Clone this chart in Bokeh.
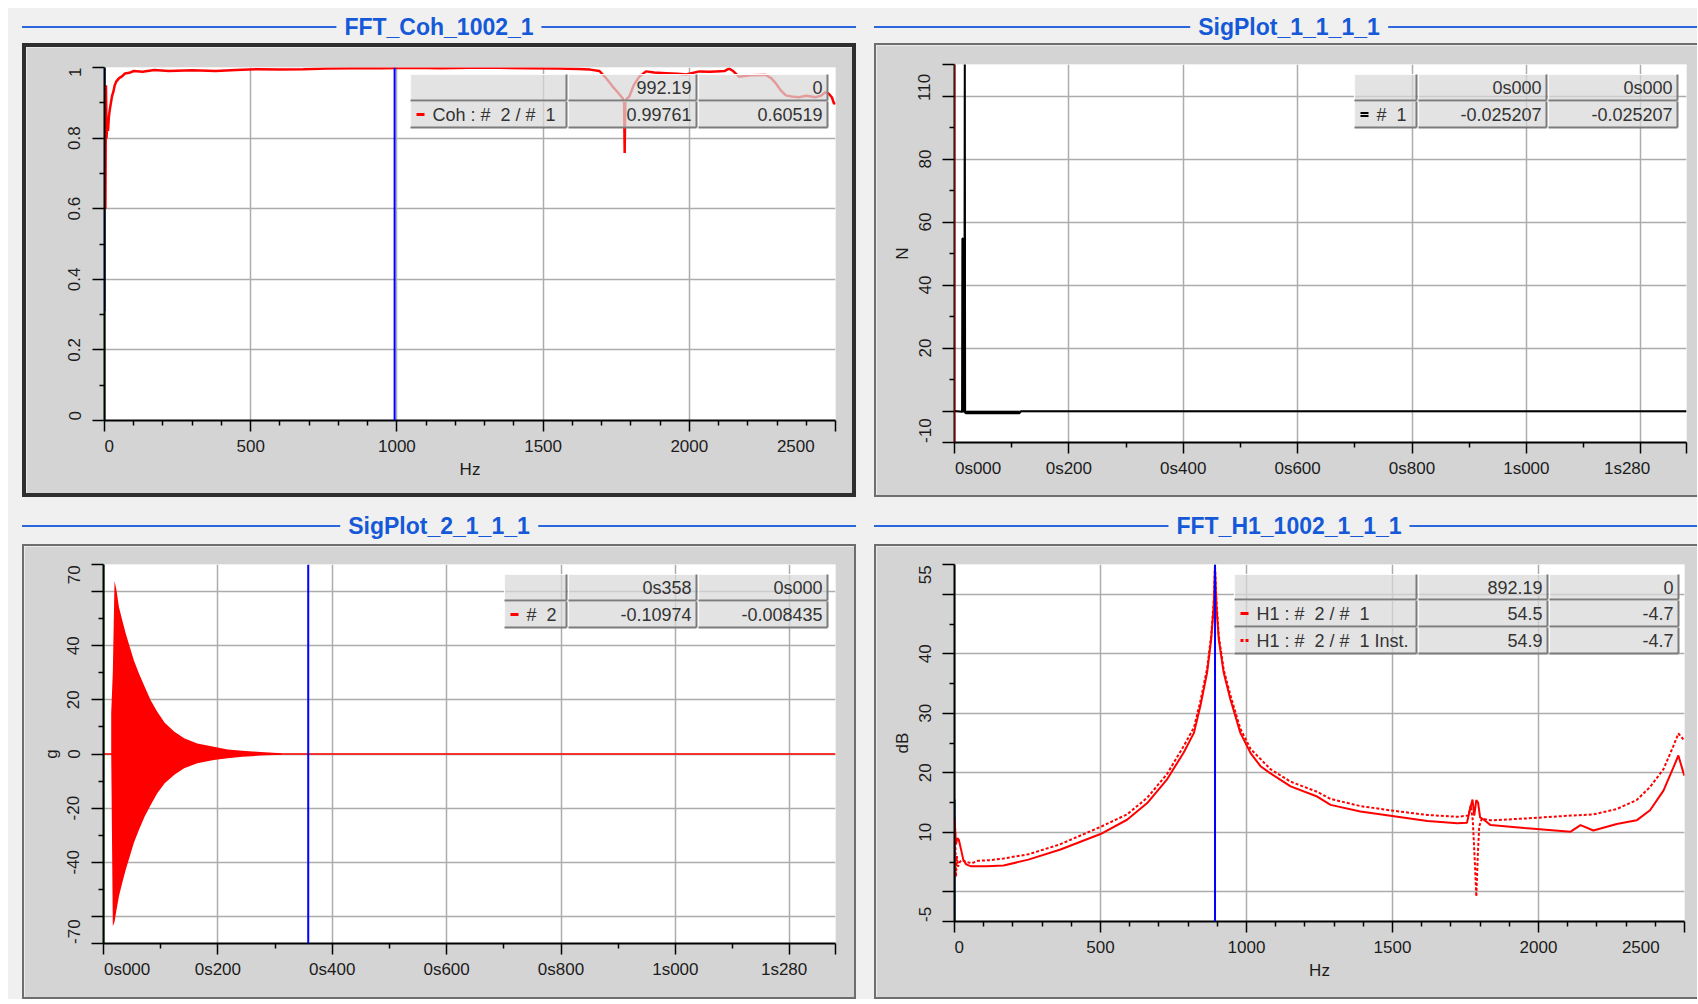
import math
from bokeh.plotting import figure
from bokeh.models import FixedTicker, Div, Spacer, Range1d, Span
from bokeh.layouts import row, column
from bokeh.embed import file_html
from bokeh.resources import INLINE
from bokeh.core.properties import value

# ---------------- data ----------------
title_tl = "FFT_Coh_1002_1"
title_tr = "SigPlot_1_1_1_1"
title_bl = "SigPlot_2_1_1_1"
title_br = "FFT_H1_1002_1_1_1"

# coherence (Hz -> 0..1)
coh_hz = [0, 3, 5, 7, 9, 12, 15, 18, 22, 26, 30, 35, 40, 50, 60, 70, 85, 100,
          130, 170, 220, 300, 380, 450, 520, 600, 680, 760, 850, 950, 1050, 1150, 1250, 1350,
          1450, 1550, 1620, 1660, 1693, 1715, 1738, 1755, 1772, 1777, 1779, 1781, 1785, 1795,
          1810, 1829, 1852, 1880, 1920, 1960, 1989, 2034, 2070, 2091, 2120, 2136, 2150, 2170,
          2210, 2261, 2280, 2296, 2313, 2330, 2350, 2375, 2400, 2432, 2450, 2466, 2478, 2488,
          2495, 2500]
coh_val = [0.61, 0.60, 0.95, 0.80, 0.84, 0.82, 0.86, 0.88, 0.90, 0.92,
           0.93, 0.95, 0.96, 0.97, 0.975, 0.983, 0.985, 0.99, 0.988, 0.993, 0.99, 0.992, 0.99,
           0.993, 0.995, 0.994, 0.995, 0.997, 0.998, 0.998, 0.999, 0.998, 0.999, 0.999, 0.998,
           0.997, 0.996, 0.994, 0.99, 0.97, 0.946, 0.93, 0.913, 0.90, 0.758, 0.90, 0.91, 0.918,
           0.95, 0.974, 0.989, 0.986, 0.984, 0.982, 0.98, 0.989, 0.988, 0.989, 0.99, 0.997,
           0.99, 0.974, 0.978, 0.979, 0.97, 0.955, 0.935, 0.921, 0.918, 0.916, 0.92, 0.916,
           0.92, 0.93, 0.925, 0.915, 0.897, 0.90]
coh_cursor = 992.19
coh_axis_trace = [0.31, 1.0]

# force (s -> N)
force_t = [0, 0.0132, 0.0138, 0.0146, 0.0152, 0.0160, 0.0166, 0.0172, 0.0180, 0.0186, 0.0192,
           0.060, 0.114, 0.116, 1.28]
force_n = [0, -0.2, 54.8, 54.8, -0.5, 54.6, 54.6, -0.4, 118, -0.6, -0.6, -0.5, -0.6, -0.1, -0.1]
force_noise_t = [0.0192, 0.114]
force_noise_n = [-0.5, -0.5]
force_cursor = 0.0

# acceleration envelope (s -> g)
acc_t = [0.0135, 0.0163, 0.0193, 0.0228, 0.027, 0.0328, 0.039, 0.046, 0.053, 0.062, 0.072,
         0.0825, 0.094, 0.107, 0.124, 0.141, 0.164, 0.193, 0.217, 0.243, 0.275, 0.311]
acc_hi = [15.2, 30.3, 64.0, 60.4, 54.3, 49.4, 44.4, 39.5, 34.6, 29.7, 24.8, 19.9, 15.6, 11.5,
          8.2, 5.8, 3.9, 2.7, 1.7, 1.2, 0.7, 0.25]
acc_lo = [0, -63.6, -62.0, -57.5, -52.5, -47.6, -42.7, -37.8, -32.9, -28.0, -23.1, -18.8,
          -14.5, -10.8, -7.7, -5.3, -3.4, -2.2, -1.6, -1.0, -0.6, -0.25]
acc_cursor = 0.358

# FRF H1 (Hz -> dB)
h1_hz = [0, 2, 5, 10, 15, 22, 30, 40, 55, 80, 110, 168, 253, 363, 500, 591, 660, 728, 785, 820,
         842, 865, 879, 888, 892, 897, 905, 922, 945, 979, 1014, 1048, 1082, 1151, 1242, 1288,
         1390, 1505, 1620, 1722, 1755, 1765, 1774, 1780, 1787, 1793, 1800, 1813, 1836, 1951,
         2110, 2144, 2188, 2268, 2336, 2382, 2428, 2462, 2479, 2497, 2500]
h1_db = [12.0, 10.5, 8.0, 9.0, 8.7, 7.2, 5.4, 4.6, 4.3, 4.3, 4.3, 4.4, 5.4, 7.1, 9.7, 12.1,
         14.9, 18.9, 23.4, 26.7, 31.2, 36.8, 42.4, 48.0, 54.5, 48.0, 42.4, 36.8, 32.3, 26.7,
         23.3, 21.1, 19.9, 17.7, 16.0, 14.6, 13.5, 12.7, 11.9, 11.5, 11.6, 13.8, 15.5, 12.8,
         15.4, 15.0, 12.5, 12.1, 11.2, 10.7, 10.1, 11.2, 10.3, 11.4, 12.0, 13.7, 17.0, 20.9,
         22.9, 19.9, 19.5]
h1i_hz = [0, 2, 5, 8, 12, 18, 25, 40, 60, 80, 120, 168, 253, 363, 500, 591, 660, 728, 785, 820,
          842, 865, 879, 888, 892, 897, 905, 922, 945, 979, 1014, 1082, 1151, 1242, 1288, 1390,
          1505, 1620, 1722, 1760, 1768, 1775, 1782, 1787, 1792, 1797, 1806, 1836, 1951, 2110,
          2188, 2268, 2336, 2382, 2428, 2462, 2479, 2490, 2500]
h1i_db = [12.5, 11.0, 2.5, 6.0, 4.2, 5.0, 5.3, 5.0, 4.8, 5.2, 5.3, 5.6, 6.3, 8.0, 10.9, 13.0,
          15.8, 19.8, 24.5, 27.6, 32.0, 37.5, 43.0, 49.0, 54.9, 49.0, 43.0, 37.3, 33.0, 27.4,
          24.0, 20.6, 18.5, 16.8, 15.6, 14.4, 13.6, 12.9, 12.6, 12.8, 14.5, 12.0, 5.0, -0.8,
          6.0, 11.0, 12.3, 12.0, 12.3, 12.8, 13.0, 13.9, 15.4, 17.6, 20.6, 24.5, 26.6, 26.0, 25.3]
h1_cursor = 892.19
h1_axis_trace = [-5, 15.5]
h1_cursor_trace = [50.5, 55]

# axes
freq_ticks = [0, 500, 1000, 1500, 2000, 2500]
freq_labels = ["0", "500", "1000", "1500", "2000", "2500"]
time_ticks = [0, 0.2, 0.4, 0.6, 0.8, 1, 1.2, 1.28]
time_labels = ["0s000", "0s200", "0s400", "0s600", "0s800", "1s000", "", "1s280"]
coh_ticks = [0, 0.2, 0.4, 0.6, 0.8, 1]
coh_labels = ["0", "0.2", "0.4", "0.6", "0.8", "1"]
force_ticks = [-10, 0, 20, 40, 60, 80, 100, 110]
force_labels = ["-10", "", "20", "40", "60", "80", "", "110"]
acc_ticks = [-70, -60, -40, -20, 0, 20, 40, 60, 70]
acc_labels = ["-70", "", "-40", "-20", "0", "20", "40", "", "70"]
h1_ticks = [-5, 0, 10, 20, 30, 40, 50, 55]
h1_labels = ["-5", "", "10", "20", "30", "40", "", "55"]

# cursor tables
coh_table = [["", "992.19", "0"], ["Coh : #\u00a0 2 / #\u00a0 1", "0.99761", "0.60519"]]
force_table = [["", "0s000", "0s000"], ["#\u00a0 1", "-0.025207", "-0.025207"]]
acc_table = [["", "0s358", "0s000"], ["#\u00a0 2", "-0.10974", "-0.008435"]]
h1_table = [["", "892.19", "0"], ["H1 : #\u00a0 2 / #\u00a0 1", "54.5", "-4.7"],
            ["H1 : #\u00a0 2 / #\u00a0 1 Inst.", "54.9", "-4.7"]]

# ---------------- styling / layout ----------------
FONT = "Liberation Sans"
FS = 17
TXT = "#1c1c1c"
PANEL = "#d4d4d4"
PAGE = "#f0f0f0"
GRID = "#acacac"
NB = "\u00a0"
CHARW = {"s": 0.5, "-": 0.333, ".": 0.278}


def pad(lab, side):
    # shift an end label inward: pad with no-break spaces of the same total width
    if not lab:
        return lab
    w = sum(CHARW.get(c, 0.556) for c in lab)
    n = max(1, round(w / 0.278))
    return NB * n + lab if side == "start" else lab + NB * n


def make_fig(g, xr, yr, xt, xminor, xl, yt, yminor, yl, xlabel=None, ylabel=None):
    p = figure(width=g["w"], height=g["h"], x_range=Range1d(*xr), y_range=Range1d(*yr),
               output_backend="svg", toolbar_location=None,
               min_border_left=g["fl"], min_border_top=g["ft"],
               min_border_right=g["w"] - g["fl"] - g["W"],
               min_border_bottom=g["h"] - g["ft"] - g["H"])
    p.border_fill_color = PANEL
    p.background_fill_color = "white"
    p.outline_line_color = None
    for ax, ticks, minor, labs, vert in ((p.xaxis[0], xt, xminor, xl, False),
                                          (p.yaxis[0], yt, yminor, yl, True)):
        ax.ticker = FixedTicker(ticks=ticks, minor_ticks=minor)
        over = {t: l for t, l in zip(ticks, labs)}
        over[ticks[0]] = pad(labs[0], "start")
        over[ticks[-1]] = pad(labs[-1], "end")
        ax.major_label_overrides = over
        ax.axis_line_color = "black"
        ax.axis_line_width = 2
        ax.major_tick_line_color = "black"
        ax.major_tick_line_width = 1.5
        ax.minor_tick_line_color = "black"
        ax.minor_tick_line_width = 1.5
        ax.major_tick_in = 0
        ax.minor_tick_in = 0
        ax.minor_tick_out = 5
        ax.major_tick_out = 12 if vert else 11
        ax.major_label_text_font = FONT
        ax.major_label_text_font_size = f"{FS}px"
        ax.major_label_text_color = TXT
        ax.major_label_standoff = 8 if vert else 5
        ax.axis_label_text_font = FONT
        ax.axis_label_text_font_size = f"{FS}px"
        ax.axis_label_text_font_style = "normal"
        ax.axis_label_text_color = TXT
        ax.axis_label_standoff = 1
        if vert:
            ax.major_label_orientation = "vertical"
    if xlabel:
        p.xaxis[0].axis_label = xlabel
    if ylabel:
        p.yaxis[0].axis_label = ylabel
    p.xgrid.ticker = FixedTicker(ticks=xt)
    p.ygrid.ticker = FixedTicker(ticks=yt)
    for gr in (p.xgrid[0], p.ygrid[0]):
        gr.grid_line_color = GRID
        gr.grid_line_width = 1.5
    return p


def draw_table(p, g, xr, yr, cols, rows, cells, markers):
    def X(px):
        return xr[0] + (px - g["ox"] - g["fl"]) / g["W"] * (xr[1] - xr[0])

    def Y(py):
        return yr[1] - (py - g["oy"] - g["ft"]) / g["H"] * (yr[1] - yr[0])

    L, R, T, B = [], [], [], []
    for r0, r1 in rows:
        for c0, c1 in cols:
            L.append(X(c0)); R.append(X(c1)); T.append(Y(r0)); B.append(Y(r1))
    p.quad(left=L, right=R, top=T, bottom=B, fill_color="#d8d8d8", fill_alpha=0.72, line_color=None)
    p.segment(x0=L + L, y0=T + T, x1=R + L, y1=T + B, line_color="#fbfbfb", line_width=1.2)
    p.segment(x0=L + R, y0=B + B, x1=R + R, y1=B + T, line_color="#7c7c7c", line_width=2)
    tx, ty, tt, lx, ly, lt = [], [], [], [], [], []
    for (r0, r1), rowcells, mk in zip(rows, cells, markers):
        yc = Y((r0 + r1) / 2)
        for (c0, c1), txt in zip(cols, rowcells):
            if not txt:
                continue
            if (c0, c1) == cols[0]:
                lx.append(X(c0 + 22)); ly.append(yc); lt.append(txt)
            else:
                tx.append(X(c1 - 5)); ty.append(yc); tt.append(txt)
        c0 = cols[0][0]
        if mk is None:
            continue
        color, kind = mk
        if kind == "solid":
            p.segment(x0=[X(c0 + 6)], y0=[yc], x1=[X(c0 + 14)], y1=[yc], line_color=color, line_width=3)
        elif kind == "double":
            p.segment(x0=[X(c0 + 6)] * 2, y0=[Y((r0 + r1) / 2 - 1.5), Y((r0 + r1) / 2 + 1.5)],
                      x1=[X(c0 + 14)] * 2, y1=[Y((r0 + r1) / 2 - 1.5), Y((r0 + r1) / 2 + 1.5)],
                      line_color=color, line_width=2)
        else:
            p.segment(x0=[X(c0 + 6), X(c0 + 11)], y0=[yc, yc], x1=[X(c0 + 9), X(c0 + 14)], y1=[yc, yc],
                      line_color=color, line_width=3)
    kw = dict(text_font=value(FONT), text_font_size="18px", text_color="#333333", text_baseline="middle")
    p.text(x=tx, y=ty, text=tt, text_align="right", **kw)
    p.text(x=lx, y=ly, text=lt, text_align="left", **kw)


def title_div(text, width, height, line_y, cx):
    html = (f'<div style="position:relative;width:{width}px;height:{height}px;">'
            f'<div style="position:absolute;left:0;width:{width}px;top:{line_y - 1}px;height:2px;background:#2a66dc;"></div>'
            f'<div style="position:absolute;left:{cx}px;top:{line_y}px;transform:translate(-50%,-50%);'
            f'background:{PAGE};padding:0 8px;color:#1559d8;font-family:\'Liberation Sans\',Arial,sans-serif;'
            f'font-weight:bold;font-size:23px;line-height:26px;white-space:nowrap;">{text}</div></div>')
    return Div(text=html, width=width, height=height, margin=0)


def bar(w, h, color):
    return Div(text="", width=w, height=h, margin=0, styles={"background-color": color})


def framed(p, g, b, color):
    # b = (left, top, right, bottom) border widths around the figure
    bl, bt, br, bb = b
    mid = [p]
    if bt:
        mid.insert(0, bar(g["w"], bt, color))
    if bb:
        mid.append(bar(g["w"], bb, color))
    H = g["h"] + bt + bb
    kids = []
    if bl:
        kids.append(bar(bl, H, color))
    kids.append(column(*mid))
    if br:
        kids.append(bar(br, H, color))
    return row(*kids)


# geometry of the four figures (page px of figure origin, plot-area offsets and sizes)
G_TL = dict(ox=26, oy=47, w=826, h=446, fl=78, ft=20, W=731, H=353)
G_TR = dict(ox=876, oy=45, w=821, h=450, fl=78, ft=19, W=732, H=378)
G_BL = dict(ox=24, oy=546, w=830, h=451, fl=79, ft=18, W=732, H=379)
G_BR = dict(ox=876, oy=546, w=821, h=451, fl=78, ft=18, W=730, H=357)

FR = (0, 2500)
TR_ = (0, 1.28)
minor_freq = [v for v in range(100, 2500, 100) if v % 500]
minor_time = [0.1, 0.3, 0.5, 0.7, 0.9, 1.1]

# --- top-left: coherence
xr, yr = FR, (0, 1)
p_tl = make_fig(G_TL, xr, yr, freq_ticks, minor_freq, freq_labels, coh_ticks,
                [0.1, 0.3, 0.5, 0.7, 0.9], coh_labels, xlabel="Hz")
p_tl.segment(x0=[0], y0=[yr[0]], x1=[0], y1=[yr[1]], line_color="#00a000", line_width=2)
p_tl.segment(x0=[0], y0=[coh_axis_trace[0]], x1=[0], y1=[coh_axis_trace[1]], line_color="blue", line_width=2)
p_tl.line(coh_hz, coh_val, line_color="red", line_width=2.5)
p_tl.add_layout(Span(location=coh_cursor, dimension="height", line_color="blue", line_width=2))
draw_table(p_tl, G_TL, xr, yr, [(410, 566), (568, 696), (698, 827)], [(74, 100), (101, 127)],
           coh_table, [None, ("red", "solid")])

# --- top-right: force
xr, yr = TR_, (-10, 110)
p_tr = make_fig(G_TR, xr, yr, time_ticks, minor_time, time_labels,
                force_ticks, [10, 30, 50, 70, 90], force_labels, ylabel="N")
p_tr.line(force_t, force_n, line_color="black", line_width=2)
p_tr.line(force_noise_t, force_noise_n, line_color="black", line_width=3.5)
p_tr.add_layout(Span(location=force_cursor, dimension="height", line_color="#d01010", line_width=1.5))
draw_table(p_tr, G_TR, xr, yr, [(1354, 1416), (1418, 1546), (1548, 1677)], [(74, 100), (101, 127)],
           force_table, [None, ("black", "double")])

# --- bottom-left: acceleration
xr, yr = TR_, (-70, 70)
p_bl = make_fig(G_BL, xr, yr, time_ticks, minor_time, time_labels,
                acc_ticks, [-50, -30, -10, 10, 30, 50], acc_labels, ylabel="g")
p_bl.segment(x0=[0], y0=[yr[0]], x1=[0], y1=[yr[1]], line_color="#00a000", line_width=2)
p_bl.line([xr[0], xr[1]], [0, 0], line_color="red", line_width=1.5)
p_bl.varea(x=acc_t, y1=acc_lo, y2=acc_hi, fill_color="red")
p_bl.add_layout(Span(location=acc_cursor, dimension="height", line_color="blue", line_width=2))
draw_table(p_bl, G_BL, xr, yr, [(504, 566), (568, 696), (698, 827)], [(574, 600), (601, 627)],
           acc_table, [None, ("red", "solid")])

# --- bottom-right: H1
xr, yr = FR, (-5, 55)
p_br = make_fig(G_BR, xr, yr, freq_ticks, minor_freq, freq_labels, h1_ticks,
                [5, 15, 25, 35, 45], h1_labels, xlabel="Hz", ylabel="dB")
p_br.segment(x0=[0], y0=[yr[0]], x1=[0], y1=[yr[1]], line_color="#00b000", line_width=1.5)
p_br.segment(x0=[0], y0=[h1_axis_trace[0]], x1=[0], y1=[h1_axis_trace[1]], line_color="blue", line_width=2)
p_br.segment(x0=[0], y0=[h1_axis_trace[0]], x1=[0], y1=[h1_axis_trace[1]], line_color="#00c000",
             line_width=2, line_dash="3 3")
p_br.line(h1i_hz, h1i_db, line_color="red", line_width=2, line_dash="3 2")
p_br.line(h1_hz, h1_db, line_color="red", line_width=2)
p_br.add_layout(Span(location=h1_cursor, dimension="height", line_color="blue", line_width=2))
p_br.segment(x0=[h1_cursor], y0=[h1_cursor_trace[0]], x1=[h1_cursor], y1=[h1_cursor_trace[1]],
             line_color="#00c000", line_width=2, line_dash="3 3")
draw_table(p_br, G_BR, xr, yr, [(1234, 1416), (1418, 1547), (1549, 1678)],
           [(574, 599), (600, 626), (627, 653)], h1_table,
           [None, ("red", "solid"), ("red", "dots")])

# --- page (8px white margin, then the grey application background)
panel_tl = column(title_div(title_tl, 834, 35, 19, 417), framed(p_tl, G_TL, (4, 4, 4, 4), "#2e2e2e"))
panel_tr = column(title_div(title_tr, 823, 35, 19, 415), framed(p_tr, G_TR, (2, 2, 0, 2), "#6e6e6e"))
panel_bl = column(title_div(title_bl, 834, 47, 29, 417), framed(p_bl, G_BL, (2, 2, 2, 2), "#6e6e6e"))
panel_br = column(title_div(title_br, 823, 47, 29, 415), framed(p_br, G_BR, (2, 2, 0, 2), "#6e6e6e"))

inner = column(
    row(Spacer(width=14, height=489), panel_tl, Spacer(width=18, height=489), panel_tr),
    row(Spacer(width=14, height=502), panel_bl, Spacer(width=18, height=502), panel_br),
    styles={"background-color": PAGE},
)
root = column(Spacer(width=1689, height=8), row(Spacer(width=8, height=991), inner))

open("out.html", "w").write(file_html(root, INLINE, title="Modal test"))
